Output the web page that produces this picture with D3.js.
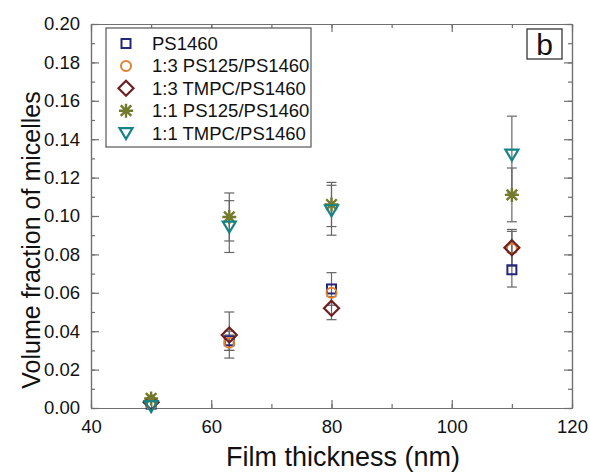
<!DOCTYPE html>
<html>
<head>
<meta charset="utf-8">
<script src="https://cdn.jsdelivr.net/npm/d3@7"></script>
<style>
  body { margin: 0; background: #fff; }
  svg { font-family: "Liberation Sans", Arial, sans-serif; }
</style>
</head>
<body>
<svg id="chart" width="590" height="475"></svg>
<script>
// Data
const thickness = [50, 63, 80, 110];

const ps1460 = [0.002, 0.035, 0.062, 0.072];
const ps1460Err = [0, 0.005, 0.0085, 0.009];

const ps125Ratio13 = [0.002, 0.034, 0.060, 0.083];
const ps125Ratio13Err = [0, 0.004, 0, 0.009];

const tmpcRatio13 = [0.003, 0.038, 0.052, 0.0835];
const tmpcRatio13Err = [0, 0.012, 0.006, 0.0095];

const ps125Ratio11 = [0.005, 0.0995, 0.106, 0.111];
const ps125Ratio11Err = [0, 0.0125, 0.0115, 0.014];

const tmpcRatio11 = [0.001, 0.0945, 0.103, 0.132];
const tmpcRatio11Err = [0, 0.0135, 0.013, 0.020];

const seriesNames = ["PS1460", "1:3 PS125/PS1460", "1:3 TMPC/PS1460", "1:1 PS125/PS1460", "1:1 TMPC/PS1460"];

const xTicks = [40, 60, 80, 100, 120];
const yTicks = [0, 0.02, 0.04, 0.06, 0.08, 0.10, 0.12, 0.14, 0.16, 0.18, 0.20];

// Series table built from the arrays above
const series = [
    { name: seriesNames[0], values: ps1460, errs: ps1460Err, shape: "square", color: "#25257a" },
    { name: seriesNames[1], values: ps125Ratio13, errs: ps125Ratio13Err, shape: "circle", color: "#e2802c" },
    { name: seriesNames[2], values: tmpcRatio13, errs: tmpcRatio13Err, shape: "diamond", color: "#6e1f1f" },
    { name: seriesNames[3], values: ps125Ratio11, errs: ps125Ratio11Err, shape: "star", color: "#737a2c" },
    { name: seriesNames[4], values: tmpcRatio11, errs: tmpcRatio11Err, shape: "triangle", color: "#168484" },
];

const dims = { left: 91, right: 572, top: 24, bottom: 408 };
const axisColor = "#707070";

const svg = d3.select("#chart");

const x = d3.scaleLinear().domain([40, 120]).range([dims.left, dims.right]);
const y = d3.scaleLinear().domain([0, 0.2]).range([dims.bottom, dims.top]);

// Marker drawing helper
function drawMarker(g, shape, color) {
    const sw = 2;
    if (shape === "square") {
        g.append("rect").attr("x", -4.5).attr("y", -4.5).attr("width", 9).attr("height", 9)
            .attr("fill", "none").attr("stroke", color).attr("stroke-width", sw);
    } else if (shape === "circle") {
        g.append("circle").attr("r", 5)
            .attr("fill", "none").attr("stroke", color).attr("stroke-width", sw);
    } else if (shape === "diamond") {
        g.append("path").attr("d", "M0,-7.5L7.5,0L0,7.5L-7.5,0Z")
            .attr("fill", "none").attr("stroke", color).attr("stroke-width", 2.2);
    } else if (shape === "star") {
        const r = 7, d = r * 0.75;
        g.append("path").attr("d", `M${-r},0H${r}M${-d},${-d}L${d},${d}M${-d},${d}L${d},${-d}M0,${-r}V${r}`)
            .attr("fill", "none").attr("stroke", color).attr("stroke-width", 2.4);
    } else if (shape === "triangle") {
        g.append("path").attr("d", "M-6.5,-5L6.5,-5L0,6Z")
            .attr("fill", "none").attr("stroke", color).attr("stroke-width", 2.2)
            .attr("stroke-linejoin", "miter");
    }
}

// Axes (ticks inside on all four sides)
const minorX = d3.range(40, 121, 10);
const minorY = d3.range(0, 0.2001, 0.01);

svg.append("g").attr("transform", `translate(0,${dims.bottom})`)
    .call(d3.axisBottom(x).tickValues(xTicks).tickSizeInner(-8).tickSizeOuter(0).tickPadding(12));
svg.append("g").attr("transform", `translate(0,${dims.top})`)
    .call(d3.axisTop(x).tickValues(minorX).tickSizeInner(-4).tickSizeOuter(0).tickFormat(""));
svg.append("g").attr("transform", `translate(${dims.left},0)`)
    .call(d3.axisLeft(y).tickValues(yTicks).tickSizeInner(-8).tickSizeOuter(0).tickPadding(11).tickFormat(d3.format(".2f")));
svg.append("g").attr("transform", `translate(${dims.right},0)`)
    .call(d3.axisRight(y).tickValues(minorY).tickSizeInner(-4).tickSizeOuter(0).tickFormat(""));

// minor ticks on bottom/left and major on top/right
svg.append("g").attr("transform", `translate(0,${dims.bottom})`)
    .call(d3.axisBottom(x).tickValues(minorX).tickSizeInner(-4).tickSizeOuter(0).tickFormat(""));
svg.append("g").attr("transform", `translate(${dims.left},0)`)
    .call(d3.axisLeft(y).tickValues(minorY).tickSizeInner(-4).tickSizeOuter(0).tickFormat(""));
svg.append("g").attr("transform", `translate(0,${dims.top})`)
    .call(d3.axisTop(x).tickValues(xTicks).tickSizeInner(-8).tickSizeOuter(0).tickFormat(""));
svg.append("g").attr("transform", `translate(${dims.right},0)`)
    .call(d3.axisRight(y).tickValues(yTicks).tickSizeInner(-8).tickSizeOuter(0).tickFormat(""));

svg.selectAll(".domain, .tick line").attr("stroke", axisColor).attr("stroke-width", 1.2);
svg.selectAll(".tick text").attr("fill", "#111").style("font-size", "18.5px")
    .style("font-family", "'Liberation Sans', Arial, sans-serif");

// Axis titles
svg.append("text")
    .attr("x", 343).attr("y", 466)
    .attr("text-anchor", "middle")
    .style("font-size", "27px").attr("fill", "#111")
    .text("Film thickness (nm)");

svg.append("text")
    .attr("transform", "translate(40,240) rotate(-90)")
    .attr("text-anchor", "middle")
    .style("font-size", "25px").attr("fill", "#111")
    .text("Volume fraction of micelles");

// Error bars
const errGroup = svg.append("g");
series.forEach(s => {
    s.values.forEach((v, i) => {
        const e = s.errs[i];
        if (!e) return;
        const cx = x(thickness[i]);
        errGroup.append("line")
            .attr("x1", cx).attr("x2", cx)
            .attr("y1", y(v + e)).attr("y2", y(v - e))
            .attr("stroke", "#666").attr("stroke-width", 1.2);
        [v + e, v - e].forEach(yy => {
            errGroup.append("line")
                .attr("x1", cx - 5).attr("x2", cx + 5)
                .attr("y1", y(yy)).attr("y2", y(yy))
                .attr("stroke", "#666").attr("stroke-width", 1.2);
        });
    });
});

// Data points
series.forEach(s => {
    s.values.forEach((v, i) => {
        const g = svg.append("g").attr("transform", `translate(${x(thickness[i])},${y(v)})`);
        drawMarker(g, s.shape, s.color);
    });
});

// Legend
const legend = svg.append("g");
legend.append("rect")
    .attr("x", 106).attr("y", 28).attr("width", 205).attr("height", 119)
    .attr("fill", "#fff").attr("stroke", "#555").attr("stroke-width", 1.2);
series.forEach((s, i) => {
    const ly = 43.5 + i * 22.4;
    const g = legend.append("g").attr("transform", `translate(126,${ly})`);
    drawMarker(g, s.shape, s.color);
    legend.append("text")
        .attr("x", 152).attr("y", ly + 6.5)
        .style("font-size", "18.5px").attr("fill", "#111")
        .text(s.name);
});

// Panel label
svg.append("rect")
    .attr("x", 527).attr("y", 29).attr("width", 35).attr("height", 30)
    .attr("fill", "#fff").attr("stroke", "#444").attr("stroke-width", 1.4);
svg.append("text")
    .attr("x", 544.5).attr("y", 55)
    .attr("text-anchor", "middle")
    .style("font-size", "30px").attr("fill", "#111")
    .text("b");
</script>
</body>
</html>
